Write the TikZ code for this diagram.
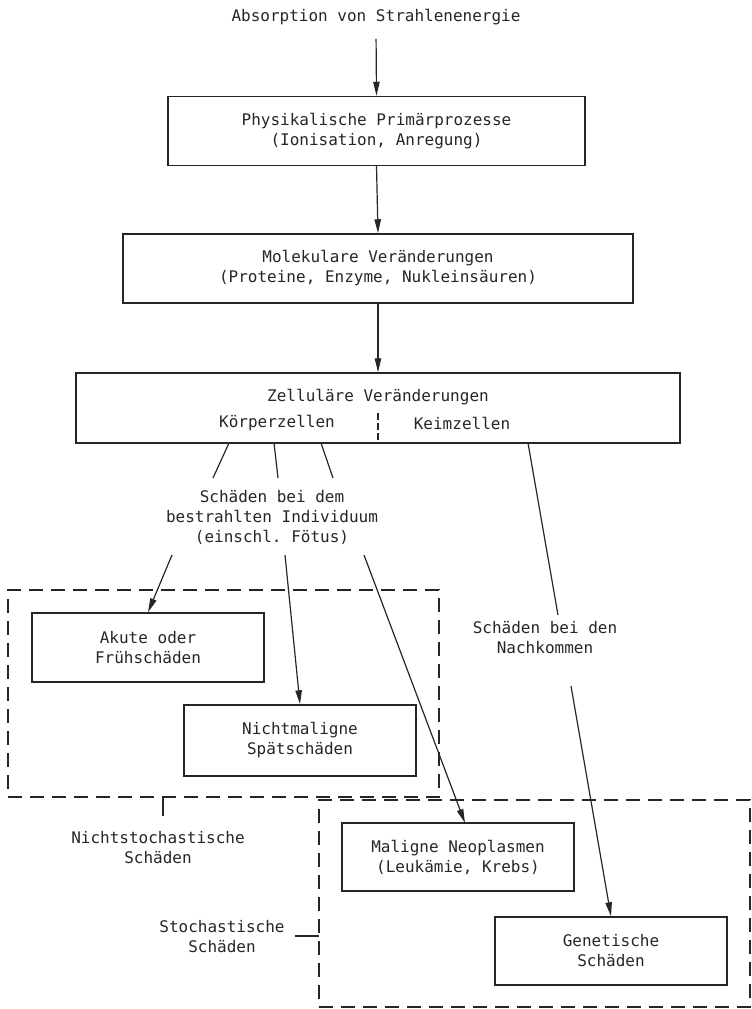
\documentclass[tikz,border=0pt]{standalone}
\usepackage{fontspec}
\setmonofont{DejaVu Sans Mono}
\usetikzlibrary{arrows.meta}
\definecolor{ink}{HTML}{262626}
\begin{document}
\begin{tikzpicture}[x=0.75pt,y=-0.75pt,
  every node/.style={font=\ttfamily\fontsize{12}{15}\selectfont, text=ink, align=center},
  size/.style 2 args={minimum width=#1*0.75pt, minimum height=#2*0.75pt},
  box/.style={draw=ink, line width=1.1pt, inner sep=0pt},
  dbox/.style={draw=ink, line width=1.1pt, inner sep=0pt, dash pattern=on 10.5pt off 6pt},
  con/.style={draw=ink, line width=0.9pt},
  arr/.style={con, -{Triangle[length=10.5pt,width=4.8pt]}},
]
\useasboundingbox (0,0) rectangle (752,1009);

% main chain
\node (title) at (376,17) {Absorption von Strahlenenergie};
\node[box, size={417}{69}] (phys) at (376.5,131) {Physikalische Primärprozesse\\(Ionisation, Anregung)};
\node[box, size={510}{69}] (mol) at (378,268.5) {Molekulare Veränderungen\\(Proteine, Enzyme, Nukleinsäuren)};
\node[box, size={604}{70}] (zell) at (378,408) {};
\node (zelltitle) at (378,397) {Zelluläre Veränderungen};
\node (koerper) at (277,423) {Körperzellen};
\node (keim) at (462,423) {Keimzellen};
\coordinate (dv) at (378,413);
\draw[con, dash pattern=on 5pt off 2.5pt] (dv) -- (zell.south -| dv);

\draw[arr, shorten <=7pt] (title.south) -- (phys.north);
\draw[arr] (phys.south) -- (mol.north);
\draw[arr] (mol.south) -- (zell.north);

% damage to the irradiated individual
\node (indiv) at (272,517) {Schäden bei dem\\bestrahlten Individuum\\(einschl. Fötus)};
\coordinate (k1) at (229,443);
\coordinate (k2) at (274,443);
\coordinate (k3) at (321,443);
\coordinate (i1) at (213,478);
\coordinate (i2) at (278,478);
\coordinate (i3) at (333,478);
\draw[con] (k1) -- (i1);
\draw[con] (k2) -- (i2);
\draw[con] (k3) -- (i3);

% non-stochastic group
\node[dbox, size={431}{207}] (nonsto) at (223.5,693.5) {};
\node[box, size={232}{69}] (akut) at (148,647.5) {Akute oder\\Frühschäden};
\node[box, size={232}{71}] (spaet) at (300,740.5) {Nichtmaligne\\Spätschäden};

% stochastic group
\node[dbox, size={431}{207}] (sto) at (534.5,903.5) {};
\node[box, size={232}{68}] (malig) at (458,857) {Maligne Neoplasmen\\(Leukämie, Krebs)};
\node[box, size={232}{68}] (genet) at (611,951) {Genetische\\Schäden};

\coordinate (s1) at (172,555);
\coordinate (s2) at (285,555);
\coordinate (s3) at (364,555);
\coordinate (m3) at (465,823);
\draw[arr] (s1) -- (akut.north);
\draw[arr] (s2) -- (spaet.north);
\draw[arr] (s3) -- (m3);

% damage to the offspring
\node (nach) at (545,638) {Schäden bei den\\Nachkommen};
\coordinate (g1) at (528,443);
\coordinate (g2) at (558,615);
\coordinate (g3) at (571,686);
\draw[con] (g1) -- (g2);
\draw[arr] (g3) -- (genet.north);

% group labels
\node (nslab) at (158,848) {Nichtstochastische\\Schäden};
\coordinate (tn) at (163,797);
\draw[con] (tn) -- ++(0,19);
\node (slab) at (222,937) {Stochastische\\Schäden};
\coordinate (ts) at (319,936);
\draw[con] (ts) -- ++(-24,0);
\end{tikzpicture}
\end{document}
